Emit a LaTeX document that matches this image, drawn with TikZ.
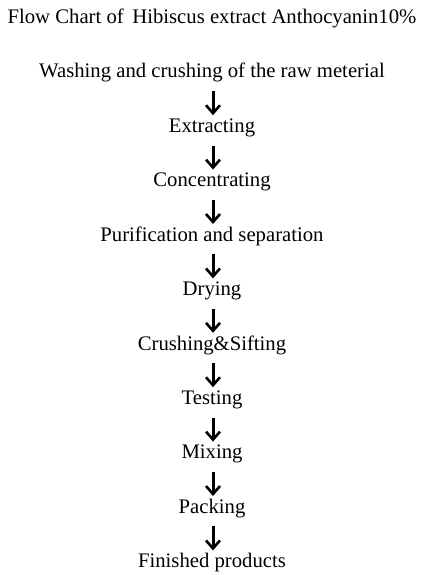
\documentclass[tikz,border=0pt]{standalone}
\usepackage{fontspec}
\setmainfont{Liberation Serif}
\usetikzlibrary{arrows.meta, positioning}

\begin{document}
\begin{tikzpicture}[x=1pt, y=1pt]
			\tikzset {step box/.style={inner sep=0pt, text height=14pt, text depth=5pt, font=\fontsize{20.7}{24}\selectfont},
				node distance=35pt,
				flow/.style={line width=3pt, -{Straight Barb[length=8pt, width=14pt, line width=2.6pt]}, shorten <=8pt, shorten >=3pt} }

			\useasboundingbox (0,0) rectangle (420,-575);

			\node[step box, anchor=base] (title) at (212,-24) {Flow Chart of\, Hibiscus extract Anthocyanin10\%};
			\node[step box, anchor=base] (wash) at (212,-78) {Washing and crushing of the raw meterial};
			\node[step box, below=of wash] (extr) {Extracting};
			\node[step box, below=of extr] (conc) {Concentrating};
			\node[step box, below=of conc] (puri) {Purification and separation};
			\node[step box, below=of puri] (dry) {Drying};
			\node[step box, below=of dry] (sift) {Crushing\&Sifting};
			\node[step box, below=of sift] (test) {Testing};
			\node[step box, below=of test] (mix) {Mixing};
			\node[step box, below=of mix] (pack) {Packing};
			\node[step box, below=of pack] (fin) {Finished products};

			\foreach \a/\b in {wash/extr, extr/conc, conc/puri, puri/dry, dry/sift, sift/test, test/mix, mix/pack, pack/fin}
				\draw[flow] ([xshift=1pt]\a.south) -- ([xshift=1pt]\b.north);
		\end{tikzpicture}
\end{document}
